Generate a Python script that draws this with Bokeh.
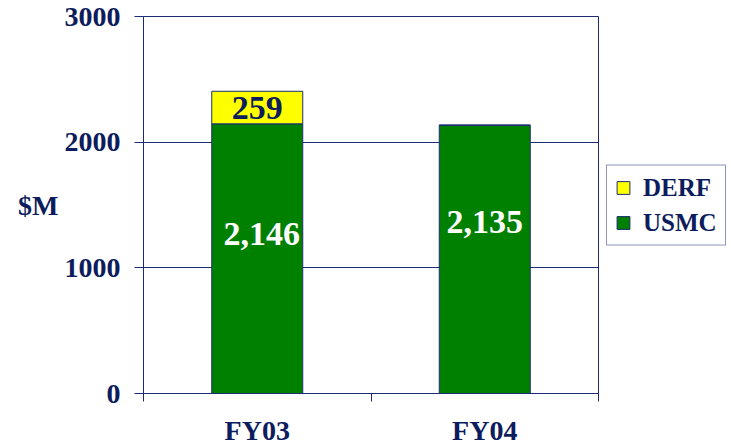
from bokeh.plotting import figure
from bokeh.models import ColumnDataSource, Range1d, FixedTicker, Legend, LegendItem
from bokeh.core.properties import value
from bokeh.embed import file_html
from bokeh.resources import INLINE

# ---- data ----
categories = ["FY03", "FY04"]
usmc = [2146, 2135]
derf = [259, 0]
usmc_labels = ["2,146", "2,135"]
derf_labels = ["259", ""]
usmc_label_y = [1269, 1361]      # where the value labels sit
usmc_label_dx = [0.02, 0.0]
y_ticks = [0, 1000, 2000, 3000]

NAVY = "#0c1c5c"
LINE = "#1c2c74"
GREEN = "#008000"
YELLOW = "#ffff00"
FONT = "Liberation Serif"

xs = [i + 0.5 for i in range(len(categories))]
src = ColumnDataSource(dict(x=xs, USMC=usmc, DERF=derf))

p = figure(frame_width=455, frame_height=377, output_backend="svg", toolbar_location=None,
           x_range=Range1d(0, len(categories)), y_range=Range1d(y_ticks[0], y_ticks[-1]),
           min_border_left=143, min_border_right=10, min_border_top=16, min_border_bottom=52)
p.background_fill_color = "white"
p.border_fill_color = "white"
p.outline_line_color = LINE
p.outline_line_width = 1

rs = p.vbar_stack(["USMC", "DERF"], x="x", width=0.4, source=src,
                  fill_color=[GREEN, YELLOW], line_color=LINE, line_width=1)

# labels
lab_src = ColumnDataSource(dict(
    x=[x + d for x, d in zip(xs, usmc_label_dx)], y=usmc_label_y, t=usmc_labels))
p.text(x="x", y="y", text="t", source=lab_src, text_color="white",
       text_font=value(FONT), text_font_style="bold", text_font_size="34px",
       text_align="center", text_baseline="middle")
der_src = ColumnDataSource(dict(
    x=xs, y=[u + d / 2 for u, d in zip(usmc, derf)], t=derf_labels))
p.text(x="x", y="y", text="t", source=der_src, text_color=NAVY,
       text_font=value(FONT), text_font_style="bold", text_font_size="34px",
       text_align="center", text_baseline="middle")

# axes
p.xaxis.ticker = FixedTicker(ticks=xs, minor_ticks=list(range(len(categories) + 1)))
p.xaxis.major_label_overrides = {x: c for x, c in zip(xs, categories)}
p.xaxis.major_tick_in = 0
p.xaxis.major_tick_out = 0
p.xaxis.minor_tick_in = 0
p.xaxis.minor_tick_out = 8
p.xaxis.minor_tick_line_color = LINE
p.xaxis.major_label_standoff = 13

p.yaxis.ticker = FixedTicker(ticks=y_ticks)
p.yaxis.major_tick_in = 0
p.yaxis.major_tick_out = 9
p.yaxis.minor_tick_line_color = None
p.yaxis.major_label_standoff = 14
p.yaxis.axis_label = "$M"
p.yaxis.axis_label_orientation = "horizontal"
p.yaxis.axis_label_standoff = 3

for ax in (p.xaxis, p.yaxis):
    ax.axis_line_color = LINE
    ax.major_tick_line_color = LINE
    ax.major_label_text_font = FONT
    ax.major_label_text_font_style = "bold"
    ax.major_label_text_font_size = "28px"
    ax.major_label_text_color = NAVY
    ax.axis_label_text_font = FONT
    ax.axis_label_text_font_style = "bold"
    ax.axis_label_text_font_size = "28px"
    ax.axis_label_text_color = NAVY

p.xgrid.grid_line_color = None
p.ygrid.ticker = FixedTicker(ticks=y_ticks)
p.ygrid.grid_line_color = LINE
p.ygrid.grid_line_width = 1

legend = Legend(items=[LegendItem(label="DERF", renderers=[rs[1]]),
                       LegendItem(label="USMC", renderers=[rs[0]])],
                location="center_left")
legend.label_text_font = FONT
legend.label_text_font_style = "bold"
legend.label_text_font_size = "25px"
legend.label_text_color = NAVY
legend.glyph_width = 16
legend.glyph_height = 16
legend.label_standoff = 12
legend.padding = 8
legend.spacing = 7
legend.margin = 8
legend.border_line_color = LINE
legend.border_line_width = 1
legend.background_fill_color = "white"
legend.background_fill_alpha = 1
p.add_layout(legend, "right")

open("out.html", "w").write(file_html(p, INLINE))
